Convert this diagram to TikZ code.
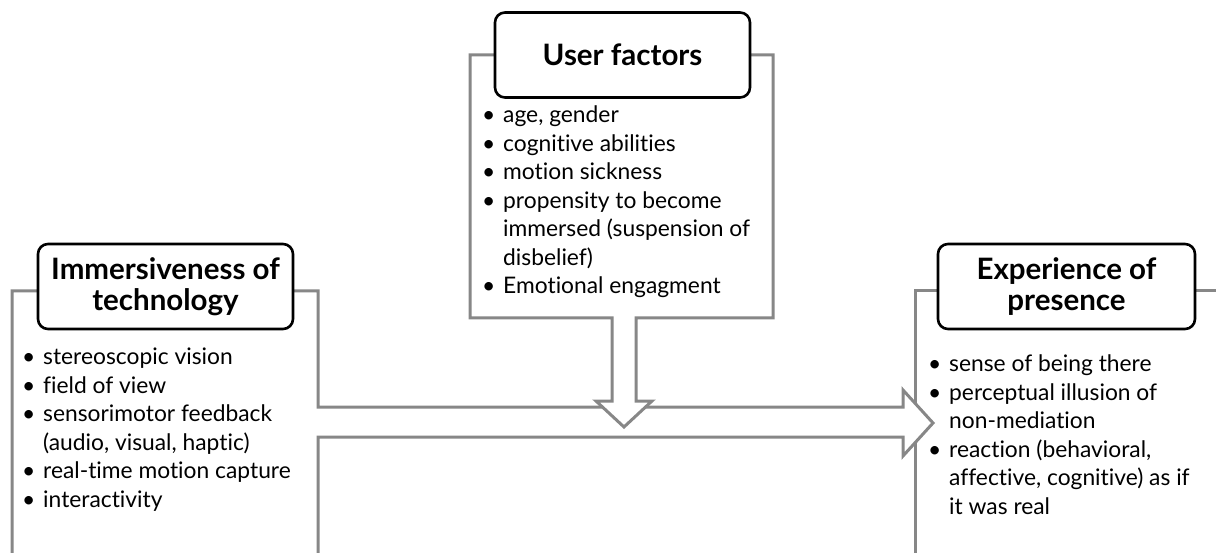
\documentclass[tikz,border=0pt]{standalone}
\usepackage{fontspec}
\setmainfont{Lato}[Ligatures = NoCommon]
\usepackage{tikz}
\usetikzlibrary{positioning}
\tikzset{>=latex}
\definecolor{mygray}{RGB}{135, 135, 135}
\newcommand{\titlefont}{\fontsize{29.5}{31}\selectfont\bfseries}
\newcommand{\listfont}{\fontsize{22.8}{28.5}\selectfont}

\begin{document}
\begin{tikzpicture}[x = 1pt, y = -1pt,
  outline/.style = {draw = mygray, line width = 3pt, fill = white, line join = miter},
  titlebox/.style = {draw = black, line width = 2.6pt, rounded corners = 10pt, fill = white,
    minimum width = 255pt, minimum height = 85pt, align = center, font = \titlefont},
  itemlist/.style = {anchor = base west, inner sep = 0pt, font = \listfont}]

\useasboundingbox (0, 0) rectangle (1216, 553);

% presence box (open to the right and bottom)
\draw[outline, fill = none] (1230, 291) -- (915, 291) -- (915, 570);

% technology box merged with the wide arrow
\draw[outline] (12, 570) -- (12, 291) -- (318, 291) -- (318, 407) -- (903, 407) -- (903, 390)
  -- (933, 423) -- (903, 456) -- (903, 437) -- (318, 437) -- (318, 570);

% user box with the down arrow
\draw[outline] (612, 318) -- (470, 318) -- (470, 55) -- (773, 55) -- (773, 318) -- (636, 318)
  -- (636, 401) -- (652, 401) -- (624, 427) -- (596, 401) -- (612, 401) -- cycle;

\node[titlebox] (tech) at (165.5, 286.5) {Immersiveness of\\technology};
\node[titlebox] (user) at (622.5, 55) {User factors};
\node[titlebox, minimum width = 257pt] (pres) at (1066.5, 286.5) {Experience of\\presence};

\node[itemlist] (techlist) at (22, 365) {\begin{tabular}[t]{@{}p{21pt}@{}l@{}}
  \textbullet & stereoscopic vision\\
  \textbullet & field of view\\
  \textbullet & sensorimotor feedback\\
              & (audio, visual, haptic)\\
  \textbullet & real-time motion capture\\
  \textbullet & interactivity
\end{tabular}};

\node[itemlist] (userlist) at (482, 123) {\begin{tabular}[t]{@{}p{21pt}@{}l@{}}
  \textbullet & age, gender\\
  \textbullet & cognitive abilities\\
  \textbullet & motion sickness\\
  \textbullet & propensity to become\\
              & immersed (suspension of\\
              & disbelief)\\
  \textbullet & Emotional engagment
\end{tabular}};

\node[itemlist] (preslist) at (928, 372) {\begin{tabular}[t]{@{}p{21pt}@{}l@{}}
  \textbullet & sense of being there\\
  \textbullet & perceptual illusion of\\
              & non-mediation\\
  \textbullet & reaction (behavioral,\\
              & affective, cognitive) as if\\
              & it was real
\end{tabular}};

\end{tikzpicture}
\end{document}
